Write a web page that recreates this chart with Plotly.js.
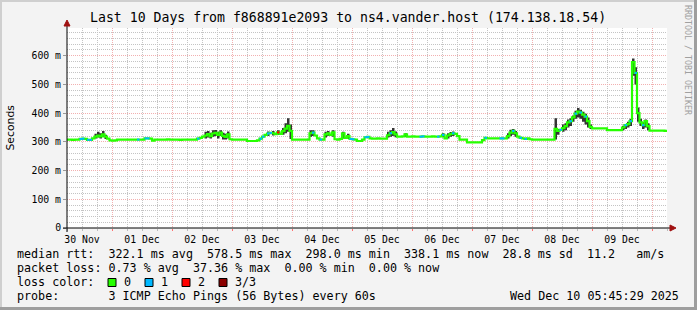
<!DOCTYPE html>
<html><head><meta charset="utf-8">
<script src="https://cdn.plot.ly/plotly-3.0.1.min.js"></script>
<style>html,body{margin:0;padding:0;background:#f3f3f3}#chart{width:697px;height:310px}</style>
</head><body><div id="chart"></div>
<script>
// ---- data (hourly samples starting 2025-11-30 06:00) ----
const startTime = '2025-11-30T06:00:00Z';
const medianRtt = [
 308,308,307,308,308, 310,311,310,307,307, 312,318,322,319,326, 318,311,305,304,305,
 308,308,308,308,308, 308,308,308,308,308, 308,312,312,311,304, 308,308,308,308,308,
 309,308,308,308,308, 307,308,308,308,308, 308,308,311,314,318, 322,327,320,329,331,
 324,332,321,317,326, 309,308,308,308,308, 308,308,303,303,303, 303,305,311,318,324,
 329,331,330,327,333, 328,337,346,356,338, 308,308,308,308,308, 308,308,330,332,322,
 312,308,308,326,330, 324,333,309,308,310, 330,314,320,310,309, 308,303,303,308,316,
 317,312,311,311,312, 311,311,311,323,330, 334,326,318,318,319, 326,318,318,319,318,
 318,318,319,318,318, 318,319,318,318,319, 324,312,322,327,330, 328,320,308,308,308,
 298,298,298,298,298, 298,306,314,312,312, 312,312,312,312,312, 312,320,332,338,330,
 318,314,312,310,312, 309,308,308,308,308, 308,308,308,308,308, 345,338,342,348,355,
 368,372,385,398,405, 402,395,388,372,352, 347,347,347,347,347, 347,341,341,341,341,
 341,341,350,358,362, 372,578,540,400,368, 358,372,355,339,339, 339,339,339,339,338
];
// hours whose median is drawn in the loss colours (1 of 3 lost, 2 of 3 lost)
const lossOneHours = [5,6,8,9,28,31,32,52,77,78,80,81,98,101,113,114,119,120,129,141,142,148,150,154,167,173,174,178,181,183,197,201,203,205,207,223,225,227,230];
const lossTwoHours = [84];
// smoke: [hour, lowest ping, highest ping]
const smoke = [
 [11,312,328],[12,315,335],[13,312,330],[14,318,338],[15,310,325],
 [55,312,335],[56,315,338],[57,312,332],[58,318,340],[59,320,341],[60,312,335],[61,320,340],[62,308,332],[63,308,328],[64,312,336],
 [80,320,336],[82,322,338],[84,324,340],[86,325,348],[87,330,365],[88,335,382],[89,310,360],
 [97,318,340],[98,320,340],[103,315,335],[104,320,338],[106,318,340],[110,312,335],[112,310,328],
 [128,315,335],[129,318,340],[130,320,348],[131,316,336],[135,318,330],
 [150,316,330],[152,312,330],[153,318,334],[154,320,336],
 [176,312,330],[177,320,342],[178,325,345],[179,318,338],
 [195,308,382],[196,325,345],[198,335,360],[199,340,365],[200,350,378],[201,355,382],[202,370,392],[203,380,408],[204,385,418],[205,380,412],[206,370,405],[207,360,398],[208,350,385],[209,345,360],
 [222,340,356],[223,345,362],[224,350,370],[225,355,380],[226,530,590],[227,500,560],[228,370,420],[229,355,380],[230,345,368],[231,350,378],[232,340,365]
];
const yTickVals = [0,100,200,300,400,500,600];
const yTickText = ['0','100 m','200 m','300 m','400 m','500 m','600 m'];
const lossLabels = ['0','1','2','3/3'];
const lossColors = ['#26ff00','#00b8ff','#ff0000','#8b0000'];
const titleText = 'Last 10 Days from f868891e2093 to ns4.vander.host (174.138.18.54)';
const legendRows = [
 'median rtt:  322.1 ms avg  578.5 ms max  298.0 ms min  338.1 ms now  28.8 ms sd  11.2   am/s',
 'packet loss: 0.73 % avg  37.36 % max  0.00 % min  0.00 % now',
 'loss color:',
 'probe:       3 ICMP Echo Pings (56 Bytes) every 60s'
];
const stampText = 'Wed Dec 10 05:45:29 2025';

// ---- helpers ----
const t0 = Date.parse(startTime);
function ts(i){ return new Date(t0 + i*3600000).toISOString().slice(0,19).replace('T',' '); }
const N = medianRtt.length;
const times = []; for (let i=0;i<=N;i++) times.push(ts(i));
const med = medianRtt.concat([medianRtt[N-1]]);
const lo = med.slice(), hi = med.slice();
smoke.forEach(([i,l,h])=>{ lo[i]=l; hi[i]=h; });

function segTrace(hours, color){
  const x=[], y=[];
  hours.forEach(i=>{ x.push(times[i], times[i+1], null); y.push(med[i], med[i], null); });
  return {x, y, type:'scatter', mode:'lines', line:{color, width:2}, hoverinfo:'skip', showlegend:false};
}

const traces = [
  {x:times, y:lo, type:'scatter', mode:'lines', line:{width:0, shape:'hv'}, hoverinfo:'skip', showlegend:false},
  {x:times, y:hi, type:'scatter', mode:'lines', line:{width:0, shape:'hv'}, fill:'tonexty', fillcolor:'rgba(30,30,30,0.9)', hoverinfo:'skip', showlegend:false},
  {x:times, y:med, type:'scatter', mode:'lines', line:{color:lossColors[0], width:2.2, shape:'hv'}, hoverinfo:'skip', showlegend:false},
  segTrace(lossOneHours, lossColors[1]),
  segTrace(lossTwoHours, lossColors[2])
];

// layout pixel helpers (plot area: x 67..667, y 28..228)
const L=67, R=667, T=28, B=228;
const px = x => (x-L)/(R-L);
const py = y => (B-y)/(B-T);
const mono = 'DejaVu Sans Mono';
const nb = s => s.replace(/ /g,'\u00a0');

const shapes = [
  // frame
  {type:'rect', xref:'paper', yref:'paper', x0:px(0), x1:px(697), y0:py(0), y1:py(2), fillcolor:'#cfcfcf', line:{width:0}, layer:'below'},
  {type:'rect', xref:'paper', yref:'paper', x0:px(0), x1:px(2), y0:py(0), y1:py(310), fillcolor:'#cfcfcf', line:{width:0}, layer:'below'},
  {type:'rect', xref:'paper', yref:'paper', x0:px(694), x1:px(697), y0:py(0), y1:py(310), fillcolor:'#9e9e9e', line:{width:0}},
  {type:'rect', xref:'paper', yref:'paper', x0:px(0), x1:px(697), y0:py(307), y1:py(310), fillcolor:'#9e9e9e', line:{width:0}},
  // axes
  {type:'line', xref:'paper', yref:'paper', x0:0, x1:0, y0:py(232), y1:py(23), line:{color:'#000', width:1}},
  {type:'path', xref:'paper', yref:'paper', path:`M ${px(64)} ${py(26)} L ${px(70)} ${py(26)} L ${px(67)} ${py(20)} Z`, fillcolor:'#a01010', line:{color:'#a01010', width:1}},
  {type:'line', xref:'paper', yref:'paper', x0:px(63), x1:px(671), y0:0, y1:0, line:{color:'#000', width:1}},
  {type:'path', xref:'paper', yref:'paper', path:`M ${px(670)} ${py(225)} L ${px(670)} ${py(231)} L ${px(676)} ${py(228)} Z`, fillcolor:'#a01010', line:{color:'#a01010', width:1}}
];
// loss colour swatches
lossLabels.forEach((lab,k)=>{
  const x0 = 108 + 37*k;
  shapes.push({type:'rect', xref:'paper', yref:'paper', x0:px(x0), x1:px(x0+8), y0:py(286.5), y1:py(278.5), fillcolor:lossColors[k], line:{color:'#000', width:1}});
});

const annotations = [
  {text:titleText, x:px(347.5), y:py(18), xref:'paper', yref:'paper', showarrow:false, xanchor:'center', yanchor:'middle', font:{family:mono, size:13.2, color:'#000'}},
  {text:'Seconds', x:px(10), y:py(127.5), xref:'paper', yref:'paper', showarrow:false, textangle:-90, xanchor:'center', yanchor:'middle', font:{family:'DejaVu Sans', size:10.8, color:'#000'}},
  {text:nb('RRDTOOL / TOBI OETIKER'), x:px(688), y:py(60), xref:'paper', yref:'paper', showarrow:false, textangle:90, xanchor:'center', yanchor:'middle', font:{family:mono, size:8.3, color:'#a0a0a0'}},
  {text:nb(stampText), x:px(681), y:py(296.3), xref:'paper', yref:'paper', showarrow:false, xanchor:'right', yanchor:'middle', font:{family:mono, size:11.7, color:'#000'}}
];
const rowY = [254.3, 268.3, 282.3, 296.3];
legendRows.forEach((r,k)=>{
  annotations.push({text:nb(r), x:px(15), y:py(rowY[k]), xref:'paper', yref:'paper', showarrow:false, xanchor:'left', yanchor:'middle', font:{family:mono, size:11.7, color:'#000'}});
});
lossLabels.forEach((lab,k)=>{
  annotations.push({text:lab, x:px(122 + 37*k), y:py(282.3), xref:'paper', yref:'paper', showarrow:false, xanchor:'left', yanchor:'middle', font:{family:mono, size:11.7, color:'#000'}});
});

const layout = {
  width:697, height:310,
  margin:{l:L, r:697-R, t:T, b:310-B, pad:0},
  paper_bgcolor:'#f3f3f3', plot_bgcolor:'#ffffff',
  showlegend:false,
  xaxis:{
    type:'date', range:[ts(0), ts(N)],
    tickmode:'linear', tick0:'2025-12-01', dtick:86400000,
    ticklabelmode:'period', tickformat:'%d %b',
    ticks:'outside', ticklen:2, tickcolor:'#ff7070',
    showgrid:true, gridcolor:'#f2b0b0', griddash:'1px,1px', gridwidth:1,
    minor:{dtick:21600000, tick0:'2025-12-01', showgrid:true, gridcolor:'#c4c4c4', griddash:'1px,1px', ticks:'outside', ticklen:2, tickcolor:'#bbbbbb'},
    zeroline:false, showline:false, fixedrange:true,
    tickfont:{family:mono, size:9.8, color:'#000'}
  },
  yaxis:{
    range:[0, 696.4], tickmode:'array', tickvals:yTickVals, ticktext:yTickText,
    ticks:'outside', ticklen:3, tickcolor:'#999999',
    showgrid:true, gridcolor:'#f2b0b0', griddash:'1px,1px', gridwidth:1,
    minor:{tickmode:'linear', tick0:0, dtick:20, showgrid:true, gridcolor:'#c4c4c4', griddash:'1px,1px'},
    zeroline:false, showline:false, fixedrange:true,
    tickfont:{family:mono, size:9.8, color:'#000'}
  },
  shapes, annotations
};
Plotly.newPlot('chart', traces, layout, {staticPlot:true, displayModeBar:false});
</script>
</body></html>
